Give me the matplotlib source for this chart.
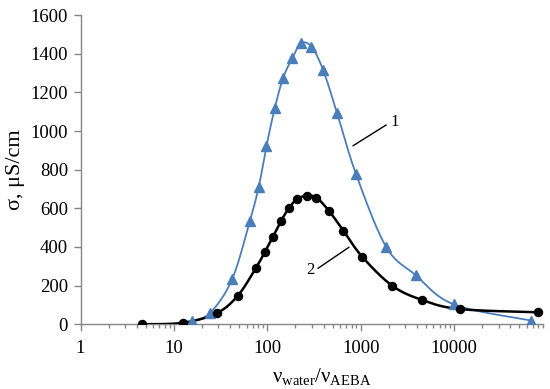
import numpy as np
import matplotlib
matplotlib.use('Agg')
import matplotlib.pyplot as plt
from matplotlib.ticker import LogLocator, NullFormatter, FixedLocator

plt.rcParams['font.family'] = ['Liberation Serif', 'DejaVu Serif']
plt.rcParams['mathtext.fontset'] = 'custom'
plt.rcParams['mathtext.rm'] = 'Liberation Serif'
plt.rcParams['mathtext.it'] = 'Liberation Serif:italic'

# series 1 (triangles, blue)
x1 = [15.7, 24.6, 42, 65, 81, 98, 120, 148, 185, 230, 297, 396, 559, 893,
      1871, 3864, 9930, 67400]
y1 = [15, 60, 233, 534, 712, 922, 1117, 1276, 1376, 1454, 1436, 1316, 1092,
      776, 401, 255, 103, 19]
# series 2 (circles, black)
x2 = [4.57, 12.5, 28.6, 48.3, 75.9, 94, 115, 140, 170, 208, 265, 336, 455,
      654, 1035, 2170, 4540, 11430, 79700]
y2 = [0, 8, 57, 148, 293, 374, 453, 534, 600, 648, 665, 655, 588, 484, 350,
      200, 126, 79, 62]

xlim = (1, 90200)
ylim = (0, 1600)
yticks = [0, 200, 400, 600, 800, 1000, 1200, 1400, 1600]
xticks = [1, 10, 100, 1000, 10000]
xticklabels = ['1', '10', '100', '1000', '10000']


def smooth(xs, ys, n=30):
    # Excel-like smoothed line: Bezier through points in screen-like space
    u = np.log10(xs) / np.log10(xlim[1] / xlim[0]) * 4.6
    v = np.array(ys, float) / (ylim[1] - ylim[0]) * 3.1
    P = np.column_stack([u, v])
    out = [P[0]]
    for i in range(len(P) - 1):
        p0 = P[i - 1] if i > 0 else P[i]
        p1 = P[i]
        p2 = P[i + 1]
        p3 = P[i + 2] if i + 2 < len(P) else P[i + 1]
        c1 = p1 + (p2 - p0) / 6
        c2 = p2 - (p3 - p1) / 6
        t = np.linspace(0, 1, n)[1:, None]
        seg = ((1 - t) ** 3) * p1 + 3 * ((1 - t) ** 2) * t * c1 \
            + 3 * (1 - t) * t ** 2 * c2 + t ** 3 * p2
        out.extend(seg)
    out = np.array(out)
    sx = 10 ** (out[:, 0] / 4.6 * np.log10(xlim[1] / xlim[0]))
    sy = out[:, 1] / 3.1 * (ylim[1] - ylim[0])
    return sx, sy


fig = plt.figure(figsize=(5.5, 3.89), dpi=100)
ax = fig.add_axes([0.1464, 0.1663, 0.9878 - 0.1464, 0.9614 - 0.1663])

blue = '#4a7ebb'
sx, sy = smooth(x1, y1)
ax.plot(sx, sy, color=blue, lw=1.3, zorder=3)
ax.plot(x1, y1, ls='none', marker='^', ms=7.5, color=blue, zorder=4)

sx, sy = smooth(x2, y2)
ax.plot(sx, sy, color='black', lw=1.8, zorder=3)
ax.plot(x2, y2, ls='none', marker='o', ms=5.8, color='black', zorder=4)

ax.set_xscale('log')
ax.set_xlim(*xlim)
ax.set_ylim(*ylim)
ax.xaxis.set_major_locator(FixedLocator(xticks))
ax.set_xticklabels(xticklabels)
ax.xaxis.set_minor_locator(LogLocator(base=10, subs=np.arange(2, 10)))
ax.xaxis.set_minor_formatter(NullFormatter())
ax.set_yticks(yticks)

gray = '#868686'
for s in ['top', 'right']:
    ax.spines[s].set_visible(False)
for s in ['left', 'bottom']:
    ax.spines[s].set_color(gray)
    ax.spines[s].set_linewidth(1.0)
ax.tick_params(axis='both', which='major', colors=gray, length=5, width=1,
               labelcolor='black', labelsize=13.5)
ax.tick_params(axis='x', which='minor', colors=gray, length=3, width=1)
ax.tick_params(axis='x', pad=6)
ax.tick_params(axis='y', pad=4)

ax.set_ylabel('σ, μS/cm', fontsize=16, va='center')
ax.yaxis.set_label_coords(-0.1415, 0.5)
ax.set_xlabel(r'ν$_{\mathrm{water}}$/ν$_{\mathrm{AEBA}}$', fontsize=15)
ax.xaxis.set_label_coords(0.522, -0.135)

# curve labels with leader lines
ax.plot([830, 1871], [924, 1031], color='black', lw=1)
ax.text(2317, 1047, '1', fontsize=12, ha='center', va='center')
ax.plot([350, 746], [290, 398], color='black', lw=1)
ax.text(290, 281, '2', fontsize=12, ha='center', va='center')

fig.savefig('out.png', dpi=100)
